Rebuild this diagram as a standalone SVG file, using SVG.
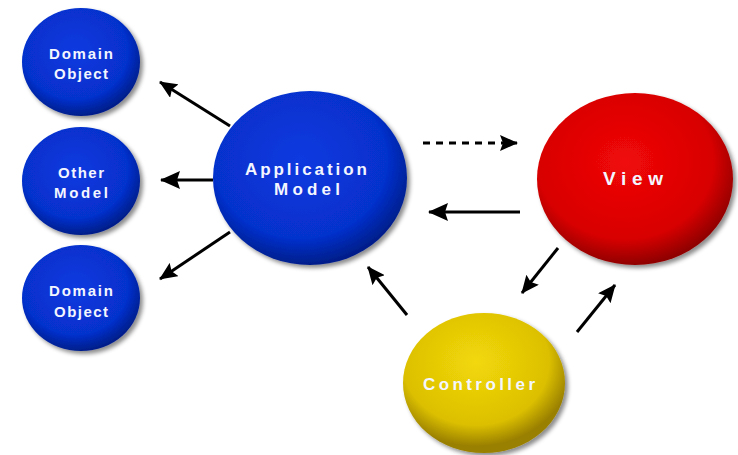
<svg xmlns="http://www.w3.org/2000/svg" width="738" height="455" viewBox="0 0 738 455">
  <defs>
    <radialGradient id="gBlue" cx="45%" cy="40%" r="60%">
      <stop offset="0" stop-color="#0a3ae0"/>
      <stop offset="0.75" stop-color="#0630cc"/>
      <stop offset="1" stop-color="#021e8a"/>
    </radialGradient>
    <radialGradient id="gRed" cx="45%" cy="40%" r="60%">
      <stop offset="0" stop-color="#f00808"/>
      <stop offset="0.75" stop-color="#d80202"/>
      <stop offset="1" stop-color="#900000"/>
    </radialGradient>
    <radialGradient id="gYellow" cx="45%" cy="35%" r="60%">
      <stop offset="0" stop-color="#f2d808"/>
      <stop offset="0.75" stop-color="#dcc004"/>
      <stop offset="1" stop-color="#9a8000"/>
    </radialGradient>
    <filter id="shadow" x="-20%" y="-20%" width="150%" height="150%">
      <feGaussianBlur in="SourceAlpha" stdDeviation="2"/>
      <feOffset dx="3" dy="3" result="b"/>
      <feFlood flood-color="#000" flood-opacity="0.45"/>
      <feComposite in2="b" operator="in"/>
      <feMerge><feMergeNode/><feMergeNode in="SourceGraphic"/></feMerge>
    </filter>
    <marker id="ah" viewBox="0 0 18 16" refX="17" refY="8" markerWidth="18" markerHeight="16" markerUnits="userSpaceOnUse" orient="auto">
      <path d="M0,0 L18,8 L0,16 L3,8 Z" fill="#000"/>
    </marker>
    <marker id="ahb" viewBox="0 0 20 18" refX="19" refY="9" markerWidth="20" markerHeight="18" markerUnits="userSpaceOnUse" orient="auto">
      <path d="M0,0 L20,9 L0,18 L3,9 Z" fill="#000"/>
    </marker>
  </defs>
  <style>
    .lbl { font-family: "Liberation Sans", Arial, sans-serif; font-weight: bold; fill: #f4f6ff; text-anchor: middle; }
    .sm { font-size: 15px; }
    .md { font-size: 17px; }
    .lg { font-size: 19px; }
    .conn { stroke: #000; fill: none; stroke-width: 3; }
  </style>
  <rect width="738" height="455" fill="#ffffff"/>

  <g id="connectors">
    <line class="conn" x1="230" y1="126" x2="160" y2="82" marker-end="url(#ah)"/>
    <line class="conn" x1="213" y1="180" x2="161" y2="180" stroke-width="4" marker-end="url(#ahb)"/>
    <line class="conn" x1="230" y1="232" x2="160" y2="279" marker-end="url(#ah)"/>
    <line class="conn" x1="423" y1="143" x2="517" y2="143" stroke-dasharray="7,6" marker-end="url(#ah)"/>
    <line class="conn" x1="520" y1="212" x2="429" y2="212" stroke-width="5" marker-end="url(#ahb)"/>
    <line class="conn" x1="558" y1="248" x2="522" y2="293" marker-end="url(#ah)"/>
    <line class="conn" x1="577" y1="332" x2="615" y2="285" marker-end="url(#ah)"/>
    <line class="conn" x1="407" y1="315" x2="368" y2="267" marker-end="url(#ah)"/>
  </g>

  <g id="domain-object-1">
    <ellipse cx="81" cy="62" rx="59" ry="54" fill="url(#gBlue)" filter="url(#shadow)"/>
    <text class="lbl sm" x="81" y="59" textLength="64" lengthAdjust="spacing">Domain</text>
    <text class="lbl sm" x="81" y="79" textLength="54" lengthAdjust="spacing">Object</text>
  </g>
  <g id="other-model">
    <ellipse cx="81" cy="181" rx="59" ry="54" fill="url(#gBlue)" filter="url(#shadow)"/>
    <text class="lbl sm" x="81" y="178" textLength="46" lengthAdjust="spacing">Other</text>
    <text class="lbl sm" x="81" y="198" textLength="54" lengthAdjust="spacing">Model</text>
  </g>
  <g id="domain-object-2">
    <ellipse cx="81" cy="298" rx="59" ry="53" fill="url(#gBlue)" filter="url(#shadow)"/>
    <text class="lbl sm" x="81" y="296" textLength="64" lengthAdjust="spacing">Domain</text>
    <text class="lbl sm" x="81" y="317" textLength="54" lengthAdjust="spacing">Object</text>
  </g>
  <g id="application-model">
    <ellipse cx="310" cy="178" rx="97" ry="87" fill="url(#gBlue)" filter="url(#shadow)"/>
    <text class="lbl md" x="306" y="175" textLength="122" lengthAdjust="spacing">Application</text>
    <text class="lbl md" x="307" y="195" textLength="66" lengthAdjust="spacing">Model</text>
  </g>
  <g id="view">
    <ellipse cx="635" cy="179" rx="98" ry="86" fill="url(#gRed)" filter="url(#shadow)"/>
    <text class="lbl lg" x="633" y="185" textLength="60" lengthAdjust="spacing">View</text>
  </g>
  <g id="controller">
    <ellipse cx="484" cy="383" rx="81" ry="70" fill="url(#gYellow)" filter="url(#shadow)"/>
    <text class="lbl md" x="479" y="390" textLength="112" lengthAdjust="spacing">Controller</text>
  </g>
</svg>
